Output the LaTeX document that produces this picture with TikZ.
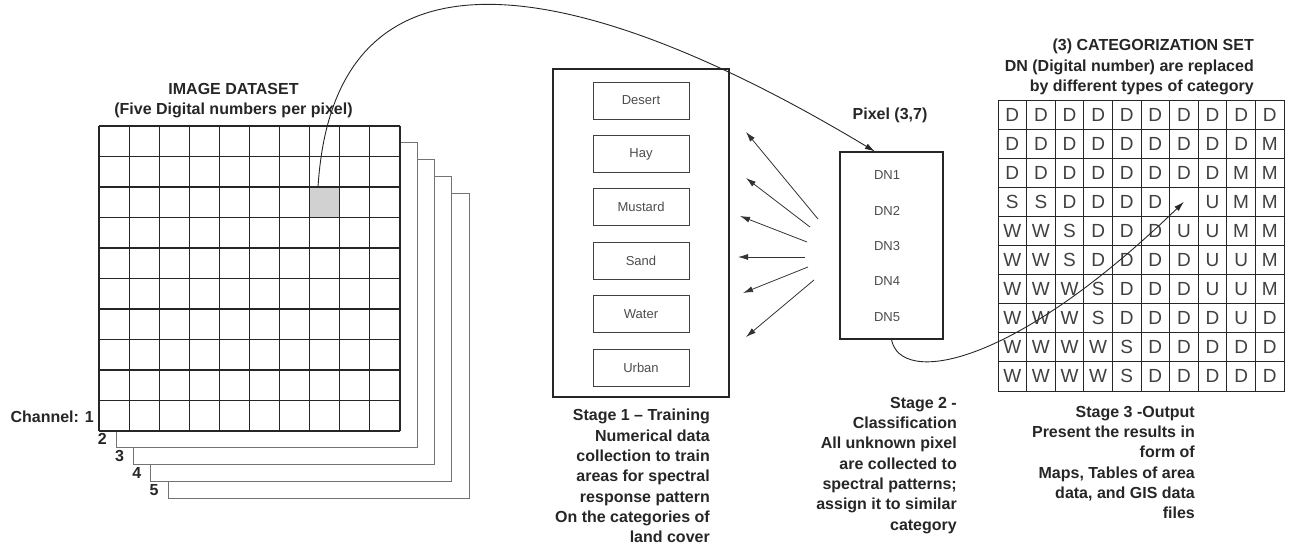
\documentclass[tikz,border=0pt]{standalone}
\usepackage{fontspec}
\setmainfont{Liberation Sans}
\usetikzlibrary{arrows.meta,calc}

\tikzset{
  title/.style={font=\fontsize{16}{20.3}\selectfont\bfseries, text=black!85, inner sep=0pt},
  stagetext/.style={title, align=right, anchor=north east},
  chan/.style={font=\fontsize{16}{16}\selectfont\bfseries, text=black!85, inner sep=0pt},
  gridline/.style={line width=1.1pt, draw=black!85},
  layer/.style={line width=0.9pt, draw=black!55, fill=white},
  selcell/.style={fill=black!18, minimum width=30.1pt, minimum height=30.5pt, inner sep=0pt},
  bigbox/.style={draw=black!85, line width=1.1pt, minimum width=176pt, minimum height=328pt, inner sep=0pt},
  classbox/.style={draw=black!75, line width=1pt, minimum width=96pt, minimum height=37pt, inner sep=0pt,
    font=\fontsize{13}{13}\selectfont, text=black!70},
  pixbox/.style={draw=black!85, line width=1.1pt, minimum width=103pt, minimum height=187pt, inner sep=0pt},
  dnlabel/.style={font=\fontsize{13}{13}\selectfont, text=black!70, inner sep=0pt},
  catcell/.style={draw=black!85, line width=1pt, minimum width=28.6pt, minimum height=29.1pt, inner sep=0pt,
    font=\fontsize{19}{19}\selectfont, text=black!75},
  fanarrow/.style={-{Latex[length=10pt,width=6pt]}, line width=0.8pt, draw=black!80},
  curvearrow/.style={-{Latex[length=10pt,width=6pt]}, line width=0.9pt, draw=black!85}
}

\begin{document}
\begin{tikzpicture}[x=1pt,y=-1pt]
\useasboundingbox (0,0) rectangle (1293,546);

% channels 2-5 behind the image
\foreach \i in {4,3,2,1}
  \draw[layer] (99+17.25*\i,126+16.9*\i) rectangle ++(301,305);

% image grid, channel 1
\fill[white] (99,126) rectangle (400,431);
\node[selcell] (sel) at (324.75,202.25) {};
\foreach \k in {0,...,10} {
  \draw[gridline] (99+30.1*\k,126) -- (99+30.1*\k,431);
  \draw[gridline] (99,126+30.5*\k) -- (400,126+30.5*\k);
}
\node[chan, anchor=east] (ch1) at (94,417) {Channel: 1};
\foreach \i in {2,...,5}
  \node[chan] (ch\i) at (99+17.25*\i-31.25,431+16.9*\i-25.9) {\i};
\node[title, align=center, anchor=north] (imgtitle) at (233.5,83)
  {IMAGE DATASET\\(Five Digital numbers per pixel)};

% stage 1
\node[bigbox] (train) at (641,233) {};
\foreach \name [count=\i from 0] in {Desert,Hay,Mustard,Sand,Water,Urban}
  \node[classbox] (\name) at (641,100.5+53.4*\i) {\name};
\node[stagetext] (stage1) at (710,409)
  {Stage 1 -- Training\\Numerical data\\collection to train\\areas for spectral\\response pattern\\On the categories of\\land cover};

% stage 2
\node[pixbox] (pixel) at (891.5,245.5) {};
\foreach \i in {1,...,5}
  \node[dnlabel] (dn\i) at (887,175+35.5*\i-35.5) {DN\i};
\node[title] (pixtitle) at (890,115) {Pixel (3,7)};
\foreach \i/\sx/\sy/\tx/\ty in {1/818/219/746/132, 2/810/227/746/178, 3/807/242/740/216,
    4/805/257/738/257, 5/808/267/743/293, 6/814/280/746/337} {
  \coordinate (fs\i) at (\sx,\sy);
  \coordinate (ft\i) at (\tx,\ty);
  \draw[fanarrow] (fs\i) -- (ft\i);
}
\node[stagetext] (stage2) at (957,397)
  {Stage 2 -\\Classification\\All unknown pixel\\are collected to\\spectral patterns;\\assign it to similar\\category};

% stage 3, categorization set
\foreach \line [count=\r] in {{D,D,D,D,D,D,D,D,D,D},{D,D,D,D,D,D,D,D,D,M},{D,D,D,D,D,D,D,D,M,M},
    {S,S,D,D,D,D,{},U,M,M},{W,W,S,D,D,D,U,U,M,M},{W,W,S,D,D,D,D,U,U,M},{W,W,W,S,D,D,D,U,U,M},
    {W,W,W,S,D,D,D,D,U,D},{W,W,W,W,S,D,D,D,D,D},{W,W,W,W,S,D,D,D,D,D}}
  \foreach \ch [count=\c] in \line
    \node[catcell] (c-\r-\c) at (998+28.6*\c-14.3,100+29.1*\r-14.55) {\ch};
\node[stagetext] (cattitle) at (1254,39)
  {(3) CATEGORIZATION SET\\DN (Digital number) are replaced\\by different types of category};
\node[stagetext] (stage3) at (1195,406)
  {Stage 3 -Output\\Present the results in\\form of\\Maps, Tables of area\\data, and GIS data\\files};

% pixel path
\draw[curvearrow] ($(sel.north west)!0.28!(sel.north east)$) .. controls (335,-85) and (600,-14)
  .. ($(pixel.north west)!0.34!(pixel.north east)$);
\draw[curvearrow] (pixel.south) .. controls (900,385) and (1010,370) .. (c-4-7.center);
\end{tikzpicture}
\end{document}
